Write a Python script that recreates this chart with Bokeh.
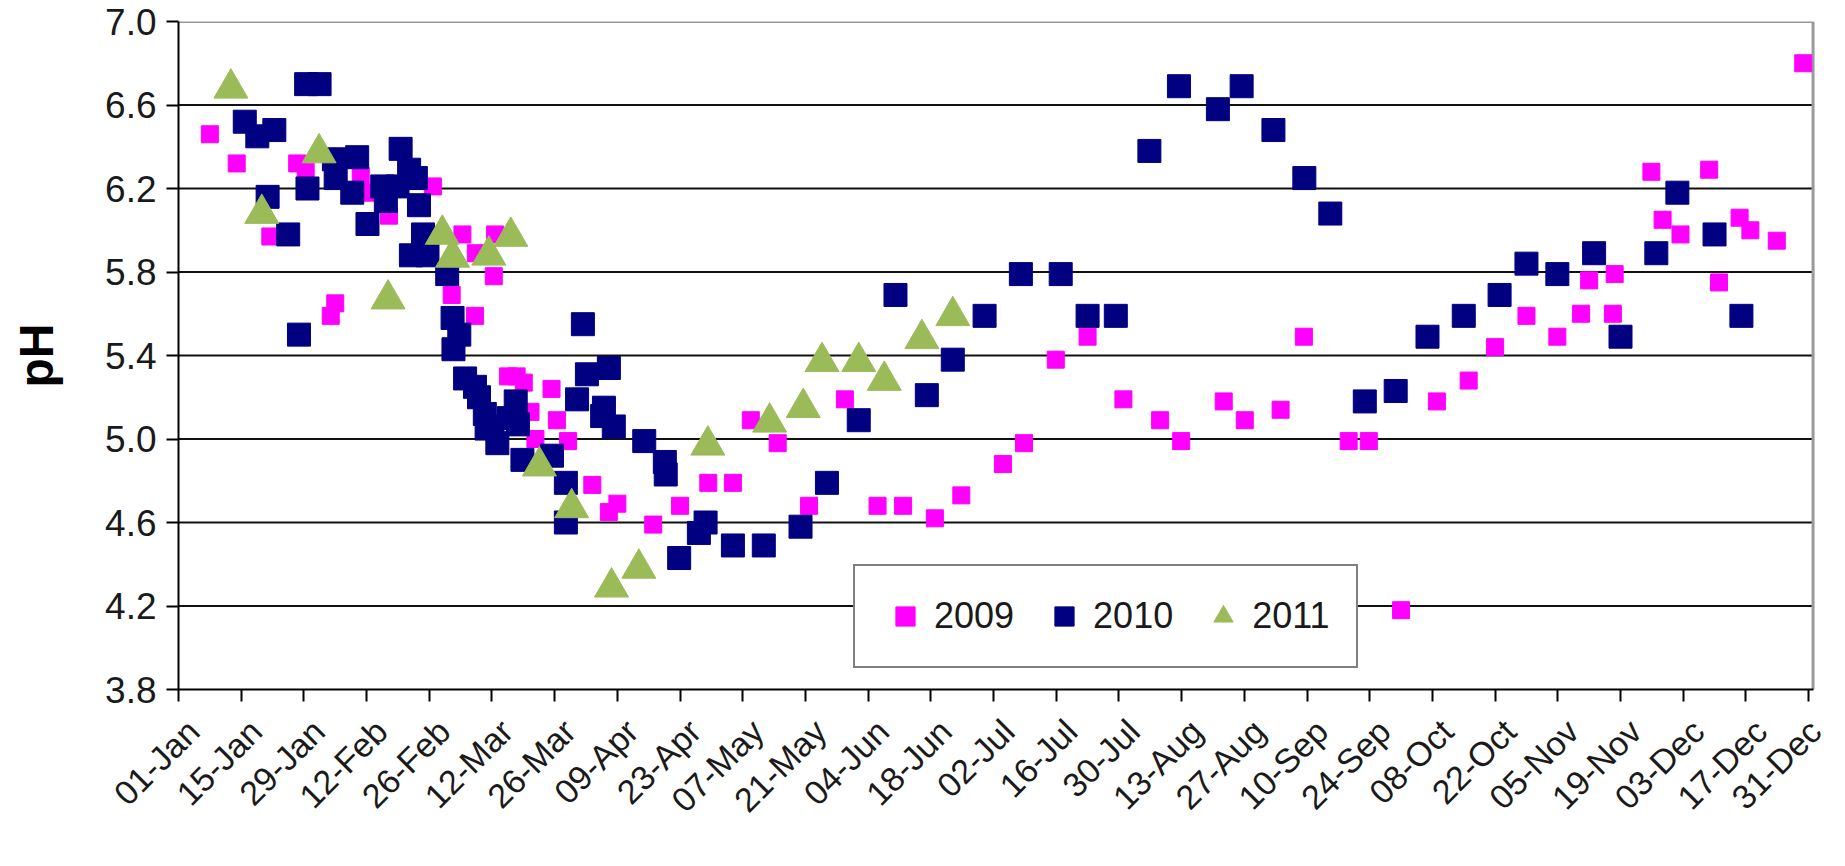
import math
from bokeh.plotting import figure
from bokeh.models import (Range1d, FixedTicker, PrintfTickFormatter, Legend, LegendItem,
                          LinearAxis)
from bokeh.embed import file_html
from bokeh.resources import INLINE

# ---------------- data (day of year, 0 = 01-Jan) ----------------
TICK_LABELS = ["01-Jan", "15-Jan", "29-Jan", "12-Feb", "26-Feb", "12-Mar", "26-Mar",
               "09-Apr", "23-Apr", "07-May", "21-May", "04-Jun", "18-Jun", "02-Jul",
               "16-Jul", "30-Jul", "13-Aug", "27-Aug", "10-Sep", "24-Sep", "08-Oct",
               "22-Oct", "05-Nov", "19-Nov", "03-Dec", "17-Dec", "31-Dec"]
TICK_STEP_DAYS = 14

Y_TICKS = [3.8, 4.2, 4.6, 5.0, 5.4, 5.8, 6.2, 6.6, 7.0]

DAY_2009 = [7, 13, 20.5, 26.5, 28.4, 34, 35, 40.7, 42.5, 47, 56.8, 61, 63.4, 66.2, 66.4,
            70.4, 70.7, 73.6, 75.5, 77.1, 78.6, 79.7, 83.3, 84.5, 87, 92.4, 96.1, 98,
            106, 112, 118.3, 123.8, 127.8, 133.8, 140.8, 148.8, 156.1, 161.8, 168.9,
            174.8, 184.1, 188.8, 195.9, 203, 211, 219.2, 223.9, 233.4, 238.1, 246.1,
            251.3, 261.3, 265.8, 273, 281, 288.1, 294, 301, 307.9, 313.2, 315, 320.3,
            320.7, 328.9, 331.4, 335.4, 341.8, 344, 348.6, 351, 356.9, 362.8]
PH_2009 = [6.46, 6.32, 5.97, 6.32, 6.28, 5.59, 5.65, 6.26, 6.18, 6.07, 6.21, 5.69, 5.98,
           5.59, 5.89, 5.78, 5.98, 5.30, 5.30, 5.27, 5.13, 5.00, 5.24, 5.09, 4.99, 4.78,
           4.65, 4.69, 4.59, 4.68, 4.79, 4.79, 5.09, 4.98, 4.68, 5.19, 4.68, 4.68, 4.62,
           4.73, 4.88, 4.98, 5.38, 5.49, 5.19, 5.09, 4.99, 5.18, 5.09, 5.14, 5.49, 4.99,
           4.99, 4.18, 5.18, 5.28, 5.44, 5.59, 5.49, 5.60, 5.76, 5.60, 5.79, 6.28, 6.05,
           5.98, 6.29, 5.75, 6.06, 6.00, 5.95, 6.80]

DAY_2010 = [14.8, 17.6, 19.9, 21.4, 24.5, 26.9, 28.5, 28.8, 31.5, 34.7, 35.1, 38.8, 39.9,
            42.2, 45.5, 46.3, 48.9, 49.6, 51.5, 51.9, 53, 53.7, 54.6, 55.6, 60, 61.2,
            61.4, 62.7, 64, 66.2, 67.1, 68.4, 68.8, 70.1, 71.2, 73.8, 75.3, 75.8, 76.8,
            83.4, 86.5, 86.5, 89, 90.3, 91.2, 94.6, 95, 96.1, 97.2, 104, 108.6, 108.8,
            111.8, 116.2, 117.7, 123.8, 130.7, 138.9, 144.8, 151.9, 160.1, 167.1, 172.9,
            180, 188.1, 197, 203, 209.3, 216.8, 223.4, 232.1, 237.4, 244.5, 251.4, 257.2,
            264.9, 271.8, 278.9, 287, 295, 301, 307.9, 316.1, 322, 330, 334.7, 343, 349]
PH_2010 = [6.52, 6.45, 6.16, 6.48, 5.98, 5.50, 6.70, 6.20, 6.70, 6.34, 6.25, 6.18, 6.35,
           6.03, 6.21, 6.14, 6.21, 6.39, 6.29, 5.88, 6.25, 6.12, 5.98, 5.88, 5.79, 5.58,
           5.43, 5.50, 5.29, 5.25, 5.20, 5.12, 5.05, 5.06, 4.98, 5.10, 5.18, 5.07, 4.90,
           4.92, 4.79, 4.60, 5.19, 5.55, 5.31, 5.11, 5.15, 5.34, 5.06, 4.99, 4.89, 4.83,
           4.43, 4.55, 4.60, 4.49, 4.49, 4.58, 4.79, 5.09, 5.69, 5.21, 5.38, 5.59, 5.79,
           5.79, 5.59, 5.59, 6.38, 6.69, 6.58, 6.69, 6.48, 6.25, 6.08, 5.18, 5.23, 5.49,
           5.59, 5.69, 5.84, 5.79, 5.89, 5.49, 5.89, 6.18, 5.98, 5.59]

DAY_2011 = [11.7, 18.6, 31.4, 46.8, 58.9, 61.2, 69.3, 74.2, 80.6, 87.8, 96.7, 102.8,
            118.2, 132, 139.5, 143.7, 151.9, 157.6, 166, 172.9]
PH_2011 = [6.68, 6.08, 6.37, 5.67, 5.98, 5.87, 5.88, 5.97, 4.87, 4.67, 4.29, 4.38,
           4.97, 5.08, 5.15, 5.37, 5.37, 5.28, 5.48, 5.59]

SERIES_NAMES = ["2009", "2010", "2011"]

# ---------------- figure ----------------
FONT = "Liberation Sans"
TXT = "#1a1a1a"
X_MIN, X_MAX = 0, 365          # plotted year (01-Jan .. 01-Jan)
X_PAD = 3                      # room right of the plot area for the last rotated label
LABEL_SHIFT_DAYS = 3.3         # rotated date labels sit slightly right of their tick
Y_MIN, Y_MAX = 3.8, 7.0
PX_PER_DAY = 1635 / (X_MAX - X_MIN)

p = figure(output_backend="svg", toolbar_location=None,
           frame_width=int(round(PX_PER_DAY * (X_MAX + X_PAD - X_MIN))), frame_height=668,
           min_border_left=178, min_border_top=21, min_border_right=2, min_border_bottom=161,
           x_range=Range1d(X_MIN, X_MAX + X_PAD), y_range=Range1d(Y_MIN, Y_MAX))
p.background_fill_color = "white"
p.border_fill_color = "white"
p.outline_line_color = None
p.xgrid.visible = False
p.ygrid.visible = False

# horizontal grid lines and plot-area border (limited to the plotted year)
grid_y = Y_TICKS[1:-1]
p.segment(x0=[X_MIN] * len(grid_y), x1=[X_MAX] * len(grid_y), y0=grid_y, y1=grid_y,
          line_color="#111111", line_width=2)
p.segment(x0=[X_MIN, X_MAX], x1=[X_MAX, X_MAX], y0=[Y_MAX, Y_MIN], y1=[Y_MAX, Y_MAX],
          line_color="#9a9a9a", line_width=3)

# x axis: line + ticks
x_ticks = list(range(0, TICK_STEP_DAYS * len(TICK_LABELS), TICK_STEP_DAYS))
p.xaxis.ticker = FixedTicker(ticks=x_ticks)
p.xaxis.bounds = (X_MIN, X_MAX)
p.xaxis.major_label_overrides = {t: "" for t in x_ticks}
p.xaxis.major_label_text_font_size = "0px"
p.xaxis.major_label_standoff = 0

# x axis: rotated date labels
p.extra_x_ranges = {"labels": Range1d(X_MIN - LABEL_SHIFT_DAYS, X_MAX + X_PAD - LABEL_SHIFT_DAYS)}
lab_axis = LinearAxis(x_range_name="labels", ticker=FixedTicker(ticks=x_ticks))
lab_axis.major_label_overrides = {t: lab for t, lab in zip(x_ticks, TICK_LABELS)}
lab_axis.major_label_orientation = math.pi / 4
lab_axis.major_label_text_font = FONT
lab_axis.major_label_text_font_size = "34px"
lab_axis.major_label_text_color = TXT
lab_axis.major_label_standoff = 24
lab_axis.axis_line_color = None
lab_axis.major_tick_line_color = None
lab_axis.minor_tick_line_color = None
lab_axis.major_tick_out = 0
lab_axis.major_tick_in = 0
p.add_layout(lab_axis, "below")

# y axis
p.yaxis.ticker = FixedTicker(ticks=Y_TICKS)
p.yaxis.formatter = PrintfTickFormatter(format="%.1f")
p.yaxis.major_label_text_font = FONT
p.yaxis.major_label_text_font_size = "37px"
p.yaxis.major_label_text_color = TXT
p.yaxis.major_label_standoff = 10
p.yaxis.axis_label = "pH"
p.yaxis.axis_label_text_font = FONT
p.yaxis.axis_label_text_font_size = "48px"
p.yaxis.axis_label_text_font_style = "bold"
p.yaxis.axis_label_text_color = "black"
p.yaxis.axis_label_standoff = 39

for ax in (p.xaxis[0], p.yaxis[0]):
    ax.axis_line_color = "black"
    ax.axis_line_width = 2
    ax.major_tick_line_color = "black"
    ax.major_tick_line_width = 2
    ax.major_tick_out = 12
    ax.major_tick_in = 0
    ax.minor_tick_line_color = None

# ---------------- points ----------------
r09 = p.scatter(DAY_2009, PH_2009, marker="square", size=17,
                fill_color="#ff00ff", line_color="#ff00ff")
r10 = p.scatter(DAY_2010, PH_2010, marker="square", size=23,
                fill_color="#000080", line_color="#000080")
r11 = p.scatter(DAY_2011, PH_2011, marker="triangle", size=34,
                fill_color="#9bbb59", line_color="#9bbb59")

legend = Legend(items=[LegendItem(label=SERIES_NAMES[0], renderers=[r09]),
                       LegendItem(label=SERIES_NAMES[1], renderers=[r10]),
                       LegendItem(label=SERIES_NAMES[2], renderers=[r11])],
                orientation="horizontal", location=(675, 21),
                label_text_font=FONT, label_text_font_size="36px", label_text_color=TXT,
                glyph_width=48, glyph_height=48, label_standoff=5, spacing=26,
                padding=26, margin=0,
                border_line_color="black", border_line_width=2,
                background_fill_color="white", background_fill_alpha=1.0)
p.add_layout(legend, "center")

open("out.html", "w").write(file_html(p, INLINE))
